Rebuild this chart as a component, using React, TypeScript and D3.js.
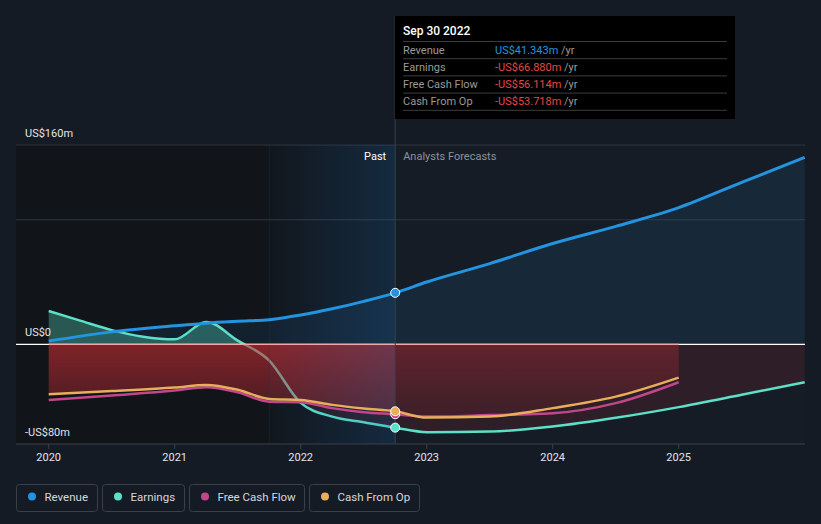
import * as d3 from "d3";

// annual-ish sample points (fractional years)
const revenueYears = [2020, 2020.5, 2021, 2021.25, 2021.5, 2021.75, 2022, 2022.25, 2022.5, 2022.75, 2023, 2023.5, 2024, 2024.5, 2025, 2025.5, 2026];
const revenueValues = [2.6, 10, 14.9, 17, 18.5, 19.8, 23.5, 28.5, 34.5, 41.343, 50, 64.8, 80.9, 94.7, 109.7, 130, 150];

const earningsYears = [2020, 2020.25, 2020.5, 2020.75, 2021, 2021.25, 2021.5, 2021.75, 2022, 2022.25, 2022.5, 2022.75, 2023, 2023.5, 2024, 2024.5, 2025, 2025.5, 2026];
const earningsValues = [26.7, 19, 11.4, 6.1, 4, 18, 3, -13, -47, -58, -62.5, -66.88, -70.5, -70, -66, -59, -50.4, -40.5, -30.4];

const cashYears = [2020, 2020.5, 2021, 2021.25, 2021.5, 2021.75, 2022, 2022.25, 2022.5, 2022.75, 2023, 2023.5, 2024, 2024.5, 2025];
const fcfValues = [-44.6, -41, -37.1, -34.4, -38.5, -46, -46.4, -51.2, -54.5, -56.114, -58, -56.8, -55.3, -47.2, -30.4];
const cfoValues = [-40, -37.5, -34.7, -32.6, -36.5, -43.8, -44.6, -48.6, -51.5, -53.718, -58.8, -58, -51.2, -42, -26.7];

const yearTicks = [2020, 2021, 2022, 2023, 2024, 2025];
const yLabels = [
  { v: 160, t: "US$160m" },
  { v: 0, t: "US$0" },
  { v: -80, t: "-US$80m" },
];
const gridValues = [160, 100];

const nowYear = 2022.75;
const highlightStart = 2021.75;

const tooltipRows = [
  { label: "Revenue", value: "US$41.343m", color: "#2394df" },
  { label: "Earnings", value: "-US$66.880m", color: "#e84545" },
  { label: "Free Cash Flow", value: "-US$56.114m", color: "#e84545" },
  { label: "Cash From Op", value: "-US$53.718m", color: "#e84545" },
];

const legendItems = [
  { label: "Revenue", color: "#2394df", x: 16.5, w: 81 },
  { label: "Earnings", color: "#5ce0c8", x: 102.5, w: 82 },
  { label: "Free Cash Flow", color: "#c2478a", x: 189.5, w: 115 },
  { label: "Cash From Op", color: "#e8ae5c", x: 309.5, w: 110 },
];

type Pt = { x: number; y: number };
const zip = (xs: number[], ys: number[]): Pt[] => xs.map((x, i) => ({ x, y: ys[i] }));

export default function App() {
  const width = 821;
  const height = 524;
  const left = 16;
  const right = 805;
  const top = 145;
  const bottom = 444;

  const x = d3.scaleLinear().domain([2020, 2026]).range([48.7, 804.7]);
  const y = d3.scaleLinear().domain([-80, 160]).range([bottom, top]);

  const line = d3
    .line<Pt>()
    .x((d) => x(d.x))
    .y((d) => y(d.y))
    .curve(d3.curveMonotoneX);
  const area = d3
    .area<Pt>()
    .x((d) => x(d.x))
    .y0(y(0))
    .y1((d) => y(d.y))
    .curve(d3.curveMonotoneX);

  const revenue = zip(revenueYears, revenueValues);
  const earnings = zip(earningsYears, earningsValues);
  const fcf = zip(cashYears, fcfValues);
  const cfo = zip(cashYears, cfoValues);
  const cfoPast = cfo.filter((d) => d.x <= nowYear);
  const cfoFuture = cfo.filter((d) => d.x >= nowYear);

  const nowX = x(nowYear);
  const hlX = x(highlightStart);
  const font = "Roboto, 'Noto Sans', sans-serif";

  return (
    <>
      <style>{`body{margin:0;background:#151b24}`}</style>
      <svg width={width} height={height} style={{ display: "block", background: "#151b24", fontFamily: font }}>
        <defs>
          <linearGradient id="hl" x1="0" x2="1" y1="0" y2="0">
            <stop offset="0%" stopColor="#2170b8" stopOpacity={0.03} />
            <stop offset="100%" stopColor="#2170b8" stopOpacity={0.24} />
          </linearGradient>
          <linearGradient id="redPast" gradientUnits="userSpaceOnUse" x1="0" x2="0" y1={y(0)} y2={y(-55)}>
            <stop offset="0%" stopColor="#c82d33" stopOpacity={0.6} />
            <stop offset="100%" stopColor="#c82d33" stopOpacity={0.3} />
          </linearGradient>
          <linearGradient id="redFuture" gradientUnits="userSpaceOnUse" x1="0" x2="0" y1={y(0)} y2={y(-58)}>
            <stop offset="0%" stopColor="#c82d33" stopOpacity={0.34} />
            <stop offset="100%" stopColor="#c82d33" stopOpacity={0.1} />
          </linearGradient>
          <clipPath id="above">
            <rect x={left} y={top} width={right - left} height={y(0) - top} />
          </clipPath>
          <clipPath id="below">
            <rect x={left} y={y(0)} width={right - left} height={bottom - y(0)} />
          </clipPath>
          <clipPath id="plot">
            <rect x={left} y={top} width={right - left} height={bottom - top} />
          </clipPath>
        </defs>

        {/* plot backgrounds */}
        <rect x={left} y={top} width={nowX - left} height={bottom - top} fill="#111419" />
        <rect x={nowX} y={top} width={right - nowX} height={bottom - top} fill="#161c26" />

        {/* gridlines */}
        {gridValues.map((v) => (
          <line key={v} x1={left} x2={right} y1={y(v)} y2={y(v)} stroke="#2e343e" strokeWidth={1} />
        ))}

        <g clipPath="url(#plot)">
          {/* revenue area */}
          <path d={area(revenue) || ""} fill="#2394df" fillOpacity={0.1} />
          {/* earnings area */}
          <path d={area(earnings) || ""} fill="#5ce0c8" fillOpacity={0.33} clipPath="url(#above)" />
          <path d={area(earnings) || ""} fill="#c82d33" fillOpacity={0.13} clipPath="url(#below)" />
          {/* earnings line (sits under cash-flow fill) */}
          <path d={line(earnings) || ""} fill="none" stroke="#5ce0c8" strokeWidth={2.5} />
          {/* cash flow areas */}
          <path d={area(cfoPast) || ""} fill="url(#redPast)" />
          <path d={area(cfoFuture) || ""} fill="url(#redFuture)" />
          {/* highlight band */}
          <rect x={hlX} y={top} width={nowX - hlX} height={bottom - top} fill="url(#hl)" />
          <line x1={hlX} x2={hlX} y1={top} y2={bottom} stroke="#1f3a52" strokeOpacity={0.3} />
          {/* lines */}
          <path d={line(revenue) || ""} fill="none" stroke="#2394df" strokeWidth={3} />
          <path d={line(fcf) || ""} fill="none" stroke="#c2478a" strokeWidth={2.5} />
          <path d={line(cfo) || ""} fill="none" stroke="#e8ae5c" strokeWidth={2.5} />
        </g>

        {/* zero line */}
        <line x1={left} x2={right} y1={y(0)} y2={y(0)} stroke="#ffffff" strokeWidth={1.2} />
        <line x1={x(2020)} x2={x(2025)} y1={y(0)} y2={y(0)} stroke="#f2a6a6" strokeWidth={1.2} />

        {/* axis */}
        <line x1={left} x2={right} y1={bottom} y2={bottom} stroke="#3a404a" strokeWidth={1} />
        {yearTicks.map((t) => (
          <g key={t}>
            <line x1={x(t)} x2={x(t)} y1={bottom} y2={bottom + 5} stroke="#3a404a" />
            <text x={x(t)} y={461} textAnchor="middle" fontSize={11} fill="#e2e4e8">
              {t}
            </text>
          </g>
        ))}
        {yLabels.map((l) => (
          <text key={l.t} x={25} y={y(l.v) - 8} fontSize={11} fill="#e2e4e8">
            {l.t}
          </text>
        ))}

        {/* now divider */}
        <line x1={nowX} x2={nowX} y1={16} y2={bottom} stroke="#34404e" strokeWidth={1} />
        <text x={nowX - 9} y={160} textAnchor="end" fontSize={11} fill="#ffffff">
          Past
        </text>
        <text x={nowX + 8} y={160} fontSize={11} fill="#8c929c">
          Analysts Forecasts
        </text>

        {/* markers */}
        {[
          { v: 41.343, c: "#2394df" },
          { v: -66.88, c: "#5ce0c8" },
          { v: -56.114, c: "#c2478a" },
          { v: -53.718, c: "#e8ae5c" },
        ].map((m) => (
          <circle key={m.c} cx={nowX} cy={y(m.v)} r={4.5} fill={m.c} stroke="#ffffff" strokeWidth={1} />
        ))}

        {/* tooltip */}
        <rect x={395} y={16} width={340} height={103} fill="#000000" />
        <text x={403} y={35} fontSize={12} fontWeight={500} fill="#ffffff">
          Sep 30 2022
        </text>
        {tooltipRows.map((r, i) => {
          const sy = 41.5 + i * 17.2;
          return (
            <g key={r.label}>
              <line x1={403} x2={727} y1={sy} y2={sy} stroke="#3c3c3c" />
              <text x={403} y={sy + 12} fontSize={11} fill="#9a9a9a">
                {r.label}
              </text>
              <text x={495} y={sy + 12} fontSize={11}>
                <tspan fill={r.color}>{r.value}</tspan>
                <tspan fill="#9a9a9a"> /yr</tspan>
              </text>
            </g>
          );
        })}
        <line x1={403} x2={727} y1={41.5 + 4 * 17.2} y2={41.5 + 4 * 17.2} stroke="#3c3c3c" />

        {/* legend */}
        {legendItems.map((l) => (
          <g key={l.label}>
            <rect x={l.x} y={484.5} width={l.w} height={27} rx={3} fill="none" stroke="#3a3f48" />
            <circle cx={l.x + 15.5} cy={496.5} r={4} fill={l.color} />
            <text x={l.x + 28} y={500.5} fontSize={11.5} fill="#d6d8dc">
              {l.label}
            </text>
          </g>
        ))}
      </svg>
    </>
  );
}
